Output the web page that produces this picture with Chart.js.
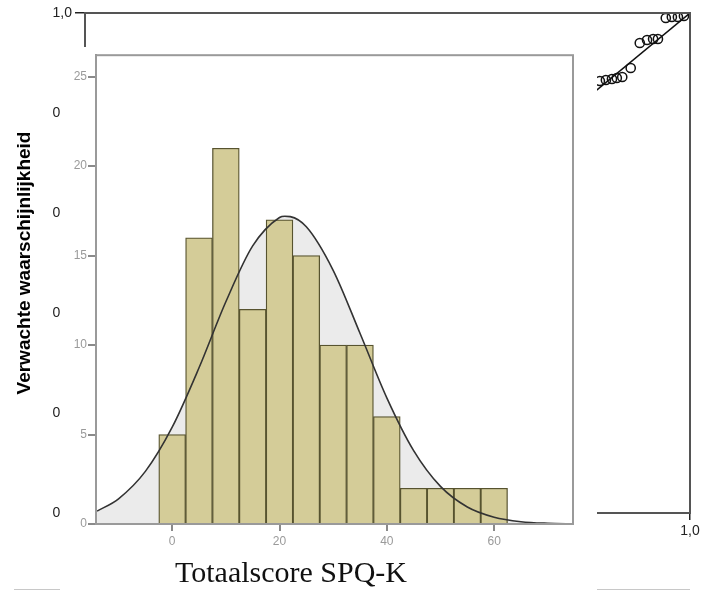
<!DOCTYPE html>
<html lang="nl">
<head>
	<meta charset="UTF-8">
	<meta name="viewport" content="width=device-width, initial-scale=1.0">
	<title>Totaalscore SPQ-K</title>
	<script src="https://cdn.jsdelivr.net/npm/chart.js"></script>
	<style>
		body {
			margin: 0;
			padding: 0;
			background-color: #fff;
			font-family: "Liberation Sans", Arial, sans-serif;
		}
		#stage {
			position: relative;
			width: 703px;
			height: 592px;
			overflow: hidden;
		}
		#ppWrap {
			position: absolute;
			left: 0;
			top: 0;
			width: 703px;
			height: 592px;
		}
		#histWrap {
			position: absolute;
			left: 60px;
			top: 47px;
			width: 537px;
			height: 545px;
			background: #fff;
		}
		.rule {
			position: absolute;
			top: 589px;
			height: 0;
			border-top: 1px solid #c8c8c8;
		}
		#xTitle {
			position: absolute;
			left: 175px;
			top: 557px;
			white-space: nowrap;
			font: 30px/30px "Liberation Serif", "Times New Roman", serif;
			color: #111;
		}
	</style>
</head>
<body>

	<div id="stage">
		<!-- P-P plot in the back -->
		<div id="ppWrap"><canvas id="ppChart"></canvas></div>
		<div class="rule" style="left:14px;width:46px"></div>
		<div class="rule" style="left:597px;width:93px"></div>

		<!-- Histogram pasted over it -->
		<div id="histWrap"><canvas id="histChart"></canvas></div>
		<div id="xTitle">Totaalscore SPQ-K</div>
	</div>

	<script>
		// P-P plot data
		const ppTicks = [0, 0.2, 0.4, 0.6, 0.8, 1.0];
		const ppObserved = [0.851, 0.861, 0.871, 0.879, 0.888, 0.902, 0.917, 0.929, 0.939, 0.947, 0.960, 0.970, 0.980, 0.990];
		const ppExpected = [0.864, 0.866, 0.868, 0.870, 0.872, 0.890, 0.940, 0.946, 0.948, 0.948, 0.990, 0.992, 0.992, 0.994];
		const diagonal = [0, 1];

		// Histogram data
		const binCenters = [0, 5, 10, 15, 20, 25, 30, 35, 40, 45, 50, 55, 60];
		const counts = [5, 16, 21, 12, 17, 15, 10, 10, 6, 2, 2, 2, 2];
		const curveX = [-14, -10, -5, 0, 5, 10, 15, 20, 21, 22, 25, 30, 35, 40, 45, 50, 55, 60, 65, 70, 75];
		const curveY = [0.72, 1.41, 2.94, 5.41, 8.73, 12.42, 15.54, 17.13, 17.2, 17.18, 16.61, 14.18, 10.66, 7.05, 4.10, 2.10, 0.95, 0.38, 0.13, 0.04, 0.01];
		const histXTicks = [0, 20, 40, 60];
		const histYTicks = [0, 5, 10, 15, 20, 25];

		const comma = v => Number(v).toFixed(1).replace('.', ',');

		// box round the plot area
		const framePlugin = {
			id: 'frame',
			afterDatasetsDraw(chart, args, opts) {
				const { ctx, chartArea: a } = chart;
				ctx.save();
				ctx.strokeStyle = opts.color;
				ctx.lineWidth = opts.width;
				ctx.strokeRect(a.left, a.top, a.right - a.left, a.bottom - a.top);
				ctx.restore();
			}
		};

		new Chart(document.getElementById('ppChart').getContext('2d'), {
			type: 'scatter',
			data: {
				datasets: [
					{
						type: 'line',
						data: diagonal.map(v => ({ x: v, y: v })),
						borderColor: '#111',
						borderWidth: 1.5,
						pointRadius: 0,
						order: 1
					},
					{
						data: ppObserved.map((v, i) => ({ x: v, y: ppExpected[i] })),
						pointStyle: 'circle',
						pointRadius: 4.6,
						borderColor: '#111',
						borderWidth: 1.5,
						backgroundColor: 'transparent',
						order: 0
					}
				]
			},
			plugins: [framePlugin],
			options: {
				responsive: true,
				maintainAspectRatio: false,
				animation: false,
				layout: { padding: { left: 0, top: 13, right: 13, bottom: 39 } },
				plugins: {
					legend: { display: false },
					tooltip: { enabled: false },
					frame: { color: '#555', width: 2 }
				},
				scales: {
					x: {
						type: 'linear', min: 0, max: 1,
						afterBuildTicks: s => { s.ticks = ppTicks.map(v => ({ value: v })); },
						afterFit: s => { s.height = 40; },
						grid: { drawOnChartArea: false, tickLength: 7, color: '#222', lineWidth: 1.5 },
						border: { color: '#222', width: 2 },
						ticks: { callback: comma, color: '#222', font: { size: 14 }, padding: 3, maxRotation: 0, autoSkip: false }
					},
					y: {
						type: 'linear', min: 0, max: 1,
						afterBuildTicks: s => { s.ticks = ppTicks.map(v => ({ value: v })); },
						afterFit: s => { s.width = 85; },
						title: {
							display: true,
							text: 'Verwachte waarschijnlijkheid',
							color: '#000',
							font: { size: 19, weight: 'bold', family: 'Liberation Sans' },
							padding: { top: 13, bottom: 0 }
						},
						grid: { drawOnChartArea: false, tickLength: 10, color: '#222', lineWidth: 1.5 },
						border: { color: '#222', width: 2 },
						ticks: { callback: comma, color: '#222', font: { size: 14 }, padding: 3, autoSkip: false }
					}
				}
			}
		});

		new Chart(document.getElementById('histChart').getContext('2d'), {
			type: 'bar',
			data: {
				datasets: [
					{
						type: 'bar',
						data: binCenters.map((c, i) => ({ x: c, y: counts[i] })),
						backgroundColor: '#d4cc98',
						borderColor: '#57532f',
						borderWidth: 1.3,
						barPercentage: 1,
						categoryPercentage: 1,
						order: 1
					},
					{
						type: 'line',
						data: curveX.map((x, i) => ({ x: x, y: curveY[i] })),
						borderColor: '#333',
						borderWidth: 1.6,
						backgroundColor: '#ebebeb',
						fill: 'origin',
						pointRadius: 0,
						cubicInterpolationMode: 'monotone',
						order: 0
					}
				]
			},
			plugins: [framePlugin],
			options: {
				responsive: true,
				maintainAspectRatio: false,
				animation: false,
				layout: { padding: { left: 0, top: 5, right: 24, bottom: 0 } },
				plugins: {
					legend: { display: false },
					tooltip: { enabled: false },
					filler: { drawTime: 'beforeDatasetsDraw' },
					frame: { color: '#9a9a9a', width: 2 }
				},
				scales: {
					x: {
						type: 'linear', min: -14.2, max: 74.7, offset: false,
						afterBuildTicks: s => { s.ticks = histXTicks.map(v => ({ value: v })); },
						afterFit: s => { s.height = 68; },
						grid: { drawOnChartArea: false, tickLength: 7, color: '#8a8a8a', lineWidth: 2, offset: false },
						border: { color: '#8a8a8a', width: 2 },
						ticks: { color: '#9a9a9a', font: { size: 12 }, padding: 3, maxRotation: 0, autoSkip: false }
					},
					y: {
						type: 'linear', min: 0, max: 26.2,
						afterBuildTicks: s => { s.ticks = histYTicks.map(v => ({ value: v })); },
						afterFit: s => { s.width = 36; },
						grid: { drawOnChartArea: false, tickLength: 8, color: '#8a8a8a', lineWidth: 2 },
						border: { color: '#8a8a8a', width: 2 },
						ticks: { color: '#9a9a9a', font: { size: 12 }, padding: 1, autoSkip: false }
					}
				}
			}
		});
	</script>

</body>
</html>
